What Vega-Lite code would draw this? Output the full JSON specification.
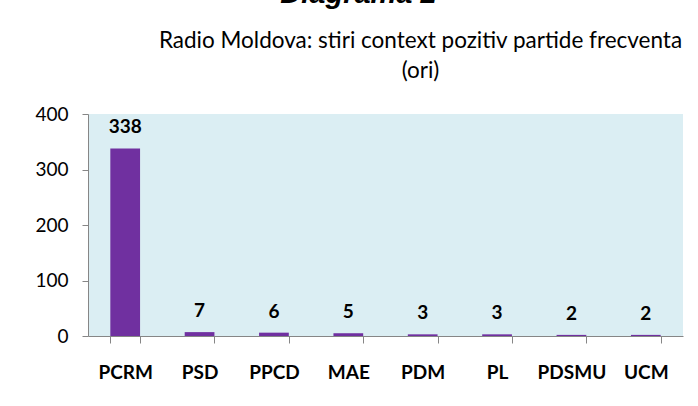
{
  "$schema": "https://vega.github.io/schema/vega-lite/v6.json",
  "autosize": "none",
  "width": 595,
  "height": 222,
  "padding": {"left": 88, "top": 114, "right": 15, "bottom": 70},
  "background": "white",
  "data": {
    "values": [
      {"party": "PCRM", "count": 338},
      {"party": "PSD", "count": 7},
      {"party": "PPCD", "count": 6},
      {"party": "MAE", "count": 5},
      {"party": "PDM", "count": 3},
      {"party": "PL", "count": 3},
      {"party": "PDSMU", "count": 2},
      {"party": "UCM", "count": 2}
    ]
  },
  "title": {
    "text": "Diagrama 2",
    "frame": "group",
    "anchor": "middle",
    "dx": -27,
    "offset": 20,
    "font": "Liberation Sans",
    "fontSize": 29,
    "fontStyle": "italic",
    "fontWeight": "bold",
    "color": "#000000"
  },
  "encoding": {
    "x": {
      "field": "party",
      "type": "nominal",
      "sort": null,
      "scale": {"paddingInner": 0.6, "paddingOuter": 0.3},
      "axis": {
        "title": null,
        "labelAngle": 0,
        "tickBand": "extent",
        "tickSize": 7,
        "tickColor": "#868686",
        "domainColor": "#868686",
        "labelFont": "Lato",
        "labelFontSize": 19,
        "labelFontWeight": "bold",
        "labelColor": "#000000",
        "labelPadding": 20
      }
    },
    "y": {
      "field": "count",
      "type": "quantitative",
      "scale": {"domain": [0, 400], "nice": false},
      "axis": {
        "values": [0, 100, 200, 300, 400],
        "grid": false,
        "tickSize": 6,
        "tickColor": "#868686",
        "domainColor": "#868686",
        "labelFont": "Lato",
        "labelFontSize": 19,
        "labelColor": "#000000",
        "labelPadding": 14,
        "title": ["Radio Moldova: stiri context pozitiv partide frecventa", "(ori)"],
        "titleAngle": 0,
        "titleX": 332,
        "titleY": -67,
        "titleAlign": "center",
        "titleBaseline": "alphabetic",
        "titleLineHeight": 30,
        "titleFont": "Lato",
        "titleFontSize": 22.5,
        "titleFontWeight": "normal",
        "titleColor": "#000000"
      }
    }
  },
  "layer": [
    {"mark": {"type": "bar", "color": "#7030A0"}},
    {
      "mark": {
        "type": "text",
        "baseline": "alphabetic",
        "dy": -15,
        "font": "Lato",
        "fontSize": 19,
        "fontWeight": "bold",
        "color": "#000000"
      },
      "encoding": {"text": {"field": "count", "type": "quantitative"}}
    }
  ],
  "config": {
    "view": {"fill": "#DBEEF3", "stroke": null}
  }
}
